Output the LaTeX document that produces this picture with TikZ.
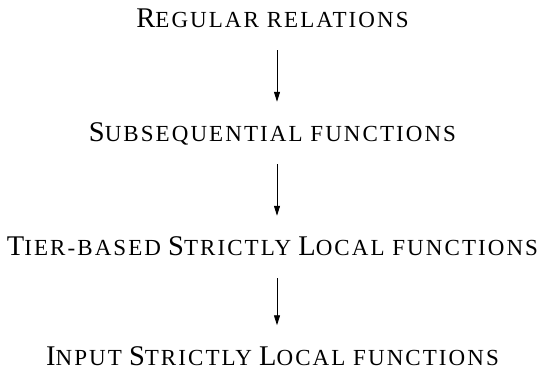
\documentclass[tikz,border=0pt]{standalone}
\usepackage{fontspec}
\setmainfont{Liberation Serif}
\newfontfamily\scfont[LetterSpace=9]{Liberation Serif}
\usetikzlibrary{arrows.meta}

\newcommand{\bigsize}{\fontsize{28.5}{33}\selectfont}
\newcommand{\sm}[1]{{\scfont\fontsize{23}{27}\selectfont #1}}

\tikzset{
    class/.style={anchor=base, font=\bigsize, text height=18pt, text depth=0pt, inner xsep=0pt, inner ysep=22pt},
    >={Triangle[width=6pt, length=10pt]}
}

\begin{document}
\begin{tikzpicture}[x=1pt, y=1pt]
        \useasboundingbox (0,0) rectangle (540,369);

        \node[name=reg, class] at (272.5, 341) {R\sm{EGULAR RELATIONS}};
        \node[name=sub, class] at (272.5, 227) {S\sm{UBSEQUENTIAL FUNCTIONS}};
        \node[name=tsl, class] at (272.5, 113) {T\sm{IER-BASED} S\sm{TRICTLY} L\sm{OCAL FUNCTIONS}};
        \node[name=isl, class] at (272.5, 3.5) {I\sm{NPUT} S\sm{TRICTLY} L\sm{OCAL FUNCTIONS}};

        \foreach \a/\b in {reg/sub, sub/tsl, tsl/isl}
            {
                \draw[->, line width=0.9pt] ([xshift=4.5pt]\a.south) -- ([xshift=4.5pt]\b.north);
            }
    \end{tikzpicture}
\end{document}
